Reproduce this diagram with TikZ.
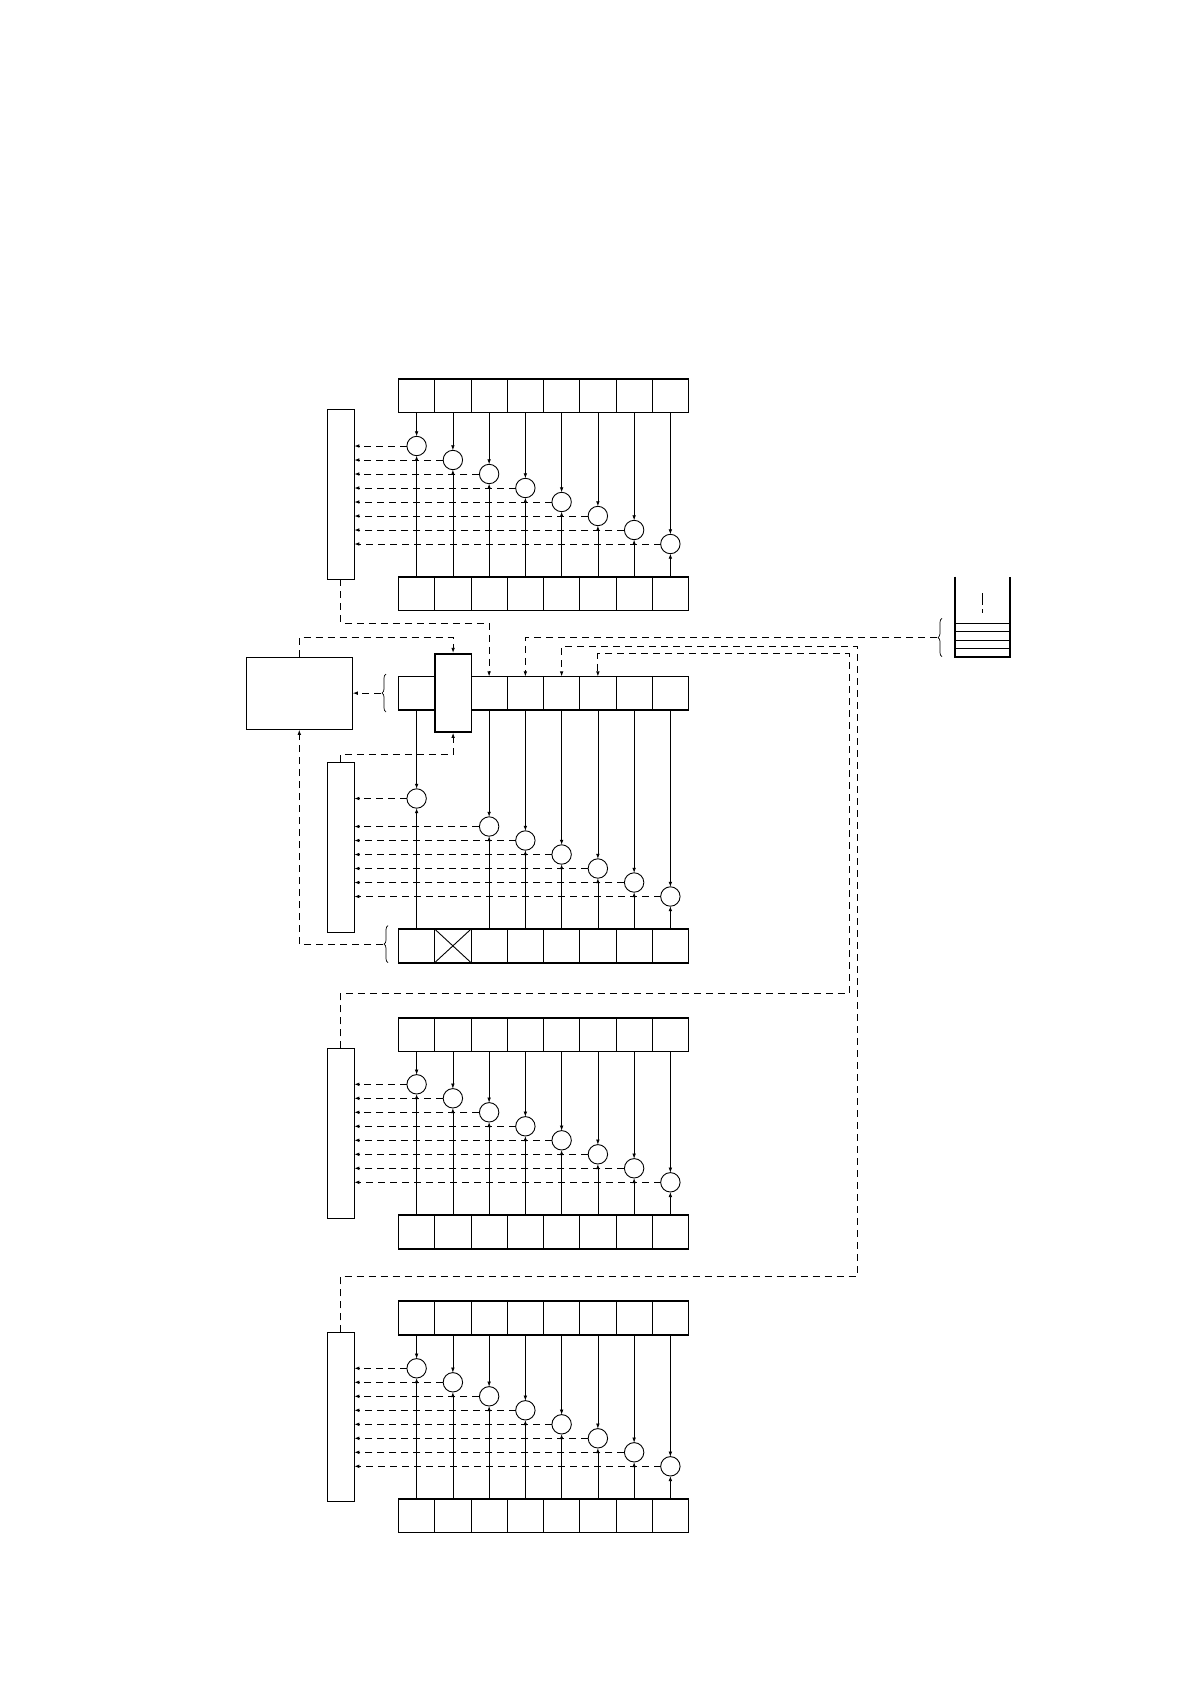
\documentclass[tikz,border=0pt]{standalone}
\usetikzlibrary{arrows.meta,decorations.pathreplacing}
\tikzset{
  cell/.style={draw,line width=1pt,minimum width=36.25pt,minimum height=33.5pt,inner sep=0pt,outer sep=0pt},
  frame/.style={draw,line width=1.8pt},
  circ/.style={draw,circle,line width=0.9pt,minimum size=19.4pt,inner sep=0pt,outer sep=0pt,fill=white},
  lbox/.style={draw,line width=0.9pt,minimum width=27pt,inner sep=0pt,outer sep=0pt},
  arr/.style={line width=0.75pt,-{Latex[length=5pt,width=3.6pt]}},
  darr/.style={line width=0.8pt,dash pattern=on 7pt off 5pt,-{Latex[length=5pt,width=3.6pt]}},
  bracestyle/.style={line width=0.7pt,decorate,decoration={brace,amplitude=4pt}},
}
\newcommand{\regrow}[2]{\foreach \i in {1,...,8}{\node[cell] (#1\i) at ({398.5+36.25*(\i-0.5)},#2) {};}
  \draw[frame] (#11.north west) rectangle (#18.south east);}
\newcommand{\fullsec}[6]{%
  \regrow{#1t}{#2}
  \regrow{#1b}{#4}
  \node[lbox,minimum height=#6pt] (#1box) at (340.8,#5) {};
  \foreach \i in {1,...,8}{
    \node[circ] (#1c\i) at ({398.5+36.25*(\i-0.5)},{#3+14*(\i-1)}) {};
    \draw[arr] (#1t\i.south) -- (#1c\i.north);
    \draw[arr] (#1b\i.north) -- (#1c\i.south);
    \draw[darr] (#1c\i.west) -- (#1c\i.west -| #1box.east);
  }
}
\begin{document}
\begin{tikzpicture}[x=1pt,y=-1pt]
\useasboundingbox (0,0) rectangle (1190,1684);

% section 1
\fullsec{sa}{395.75}{446}{593.75}{494.3}{170}
% section 3
\fullsec{sc}{1034.7}{1084.3}{1231.85}{1133.3}{170}
% section 4
\fullsec{sd}{1318}{1368.3}{1515.65}{1416.65}{168.7}

% section 2
\regrow{sbt}{693.15}
\regrow{sbb}{945.85}
\node[lbox,minimum height=170pt] (sbbox) at (340.8,847.3) {};
\foreach \i in {1,3,4,5,6,7,8}{
  \node[circ] (sbc\i) at ({398.5+36.25*(\i-0.5)},{798.5+14*(\i-1)}) {};
  \draw[arr] (sbt\i.south) -- (sbc\i.north);
  \draw[arr] (sbb\i.north) -- (sbc\i.south);
  \draw[darr] (sbc\i.west) -- (sbc\i.west -| sbbox.east);
}
\draw[line width=0.9pt] (sbb2.north west) -- (sbb2.south east) (sbb2.south west) -- (sbb2.north east);
\node[draw,line width=1.7pt,fill=white,minimum width=36.7pt,minimum height=78.3pt,inner sep=0pt] (tall) at (453.1,692.85) {};
\node[draw,line width=1pt,minimum width=106pt,minimum height=72pt,inner sep=0pt] (big) at (299.3,693.3) {};

% braces
\draw[bracestyle] (386,712) -- (386,674);
\coordinate (bra) at (381,693.15);
\draw[darr] (bra) -- (bra -| big.east);
\draw[bracestyle] (388,962.7) -- (388,925.7);
\coordinate (brb) at (383,944.3);
\draw[darr] (brb) -| (big.south);

% stack
\draw[line width=1.7pt] (955,576.7) -- (955,656.7) -- (1010,656.7) -- (1010,576.7);
\foreach \yy in {623.3,631.6,640,648.3} \draw[line width=0.9pt] (955,\yy) -- (1010,\yy);
\draw[line width=0.9pt,dash pattern=on 12pt off 4pt] (982.7,593) -- (982.7,613);
\draw[bracestyle] (942,656.7) -- (942,618.3);
\coordinate (brc) at (937,637.5);
\draw[darr] (brc) -| (sbt4.north);

% dashed connections
\draw[darr] (sabox.south) -- ++(0,44) -| (sbt3.north);
\draw[darr] (big.north) -- ++(0,-19.6) -| (tall.north);
\draw[darr] (sbbox.north) -- ++(0,-8) -| (tall.south);
\coordinate (kc1) at (849,993.3);
\coordinate (kc2) at (849,653.7);
\draw[darr] (scbox.north) |- (kc1) -- (kc2) -| (sbt6.north);
\coordinate (kd1) at (857,1276);
\coordinate (kd2) at (857,646);
\draw[darr] (sdbox.north) |- (kd1) -- (kd2) -| (sbt5.north);
\end{tikzpicture}
\end{document}
